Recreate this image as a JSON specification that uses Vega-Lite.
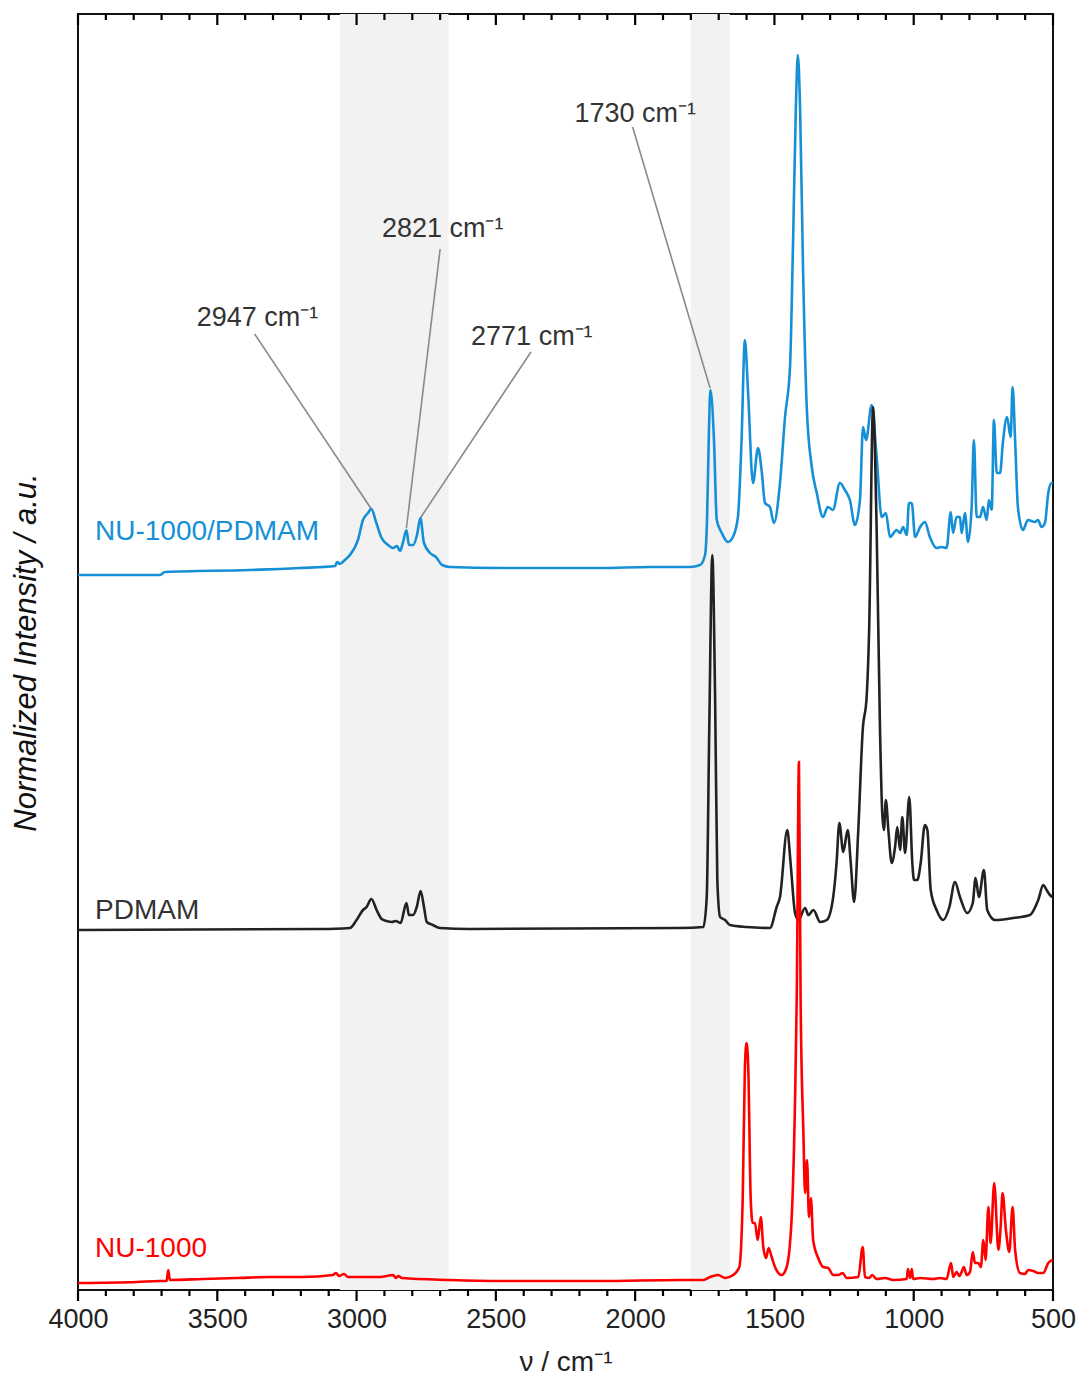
{
  "$schema": "https://vega.github.io/schema/vega-lite/v6.json",
  "width": 975,
  "height": 1276,
  "autosize": {"type": "none"},
  "padding": {"left": 78, "top": 14, "right": 28, "bottom": 91},
  "background": "white",
  "config": {
    "view": {"stroke": "#111111", "strokeWidth": 2},
    "font": "Liberation Sans",
    "axis": {"grid": false}
  },
  "datasets": {
    "blue": [[4000,715],[3706,715],[3688,718],[3383,720],[3203,722],[3077,724],[3070,728],[3060,726],[3042,730],[3024,735],[2995,750],[2977,770],[2959,777],[2947,781],[2930,768],[2912,753],[2887,745],[2869,742],[2855,744],[2844,739],[2833,748],[2821,760],[2812,745],[2797,745],[2783,755],[2771,772],[2758,747],[2736,737],[2715,733],[2693,725],[2665,723],[2485,722],[2126,722],[1947,723],[1803,723],[1767,725],[1749,735],[1742,770],[1735,860],[1730,900],[1717,850],[1707,770],[1689,757],[1667,748],[1649,753],[1631,773],[1618,850],[1606,950],[1595,900],[1577,807],[1559,842],[1545,817],[1534,787],[1516,783],[1502,767],[1480,807],[1462,873],[1444,923],[1433,1050],[1423,1183],[1416,1235],[1408,1183],[1397,1017],[1384,883],[1366,823],[1348,797],[1326,773],[1308,783],[1290,780],[1265,807],[1247,800],[1229,790],[1211,765],[1193,790],[1182,863],[1171,850],[1151,885],[1133,833],[1115,773],[1100,777],[1085,753],[1061,760],[1049,757],[1038,763],[1025,755],[1017,787],[1007,787],[995,753],[977,763],[960,768],[942,753],[918,742],[900,743],[882,742],[867,778],[859,757],[846,773],[834,773],[828,757],[816,777],[805,748],[792,783],[784,850],[774,773],[762,773],[751,783],[738,770],[730,790],[720,780],[712,870],[702,817],[690,817],[680,847],[665,873],[652,853],[645,903],[636,850],[626,783],[608,760],[590,770],[565,768],[554,770],[541,763],[529,767],[517,797],[505,807],[500,807]],
    "black": [[4000,360],[3131,361],[3024,362],[3000,370],[2977,380],[2964,383],[2947,391],[2928,380],[2910,371],[2892,369],[2874,368],[2859,369],[2842,367],[2821,387],[2812,375],[2797,375],[2784,383],[2770,399],[2758,383],[2748,368],[2726,365],[2701,362],[2593,361],[1839,362],[1755,363],[1743,393],[1734,560],[1723,735],[1713,593],[1705,410],[1695,373],[1677,370],[1660,365],[1600,363],[1516,362],[1492,383],[1480,393],[1454,460],[1442,427],[1426,377],[1414,370],[1390,382],[1378,375],[1360,380],[1336,368],[1312,370],[1289,393],[1277,427],[1267,467],[1253,438],[1237,460],[1226,427],[1214,388],[1199,460],[1183,560],[1169,593],[1160,660],[1146,883],[1133,760],[1121,560],[1113,477],[1107,460],[1100,490],[1091,460],[1079,427],[1067,443],[1059,463],[1049,440],[1041,473],[1031,437],[1016,493],[1005,427],[999,410],[987,410],[975,427],[960,465],[951,460],[939,400],[918,380],[894,370],[872,383],[852,408],[834,393],[808,377],[788,387],[778,412],[766,393],[748,420],[736,380],[708,370],[643,372],[583,375],[553,390],[535,405],[523,400],[511,395],[501,393]],
    "red": [[4000,7],[3789,8],[3706,9],[3682,9],[3676,20],[3670,10],[3551,11],[3430,12],[3311,13],[3192,13],[3085,15],[3074,17],[3063,14],[3045,16],[3031,13],[2916,13],[2869,15],[2859,12],[2851,14],[2837,12],[2665,10],[2485,9],[2126,9],[1839,10],[1755,10],[1731,13],[1702,15],[1677,12],[1648,15],[1626,23],[1614,90],[1606,223],[1600,247],[1594,223],[1585,90],[1578,67],[1570,67],[1560,50],[1549,73],[1540,43],[1530,32],[1521,42],[1510,33],[1498,23],[1474,15],[1456,23],[1438,73],[1426,190],[1420,290],[1412,528],[1406,290],[1396,157],[1390,97],[1383,130],[1376,73],[1369,92],[1361,50],[1343,32],[1325,23],[1307,22],[1289,15],[1271,15],[1255,17],[1241,12],[1199,13],[1183,43],[1175,13],[1160,12],[1149,15],[1133,11],[1103,12],[1073,10],[1025,11],[1021,21],[1013,12],[1007,21],[1002,11],[977,12],[930,11],[906,12],[882,11],[866,27],[858,13],[846,18],[836,14],[828,18],[820,23],[810,15],[798,18],[788,38],[780,27],[768,27],[759,23],[750,50],[742,30],[732,83],[724,47],[711,107],[696,40],[688,63],[681,97],[669,60],[657,38],[645,83],[636,40],[619,17],[601,16],[589,20],[571,19],[553,17],[535,17],[517,27],[501,30]],
    "bands": [{"a": 3060, "b": 2670}, {"a": 1800, "b": 1660}],
    "major": [{"v": 4000}, {"v": 3500}, {"v": 3000}, {"v": 2500}, {"v": 2000}, {"v": 1500}, {"v": 1000}, {"v": 500}],
    "minor": [{"v": 3900}, {"v": 3800}, {"v": 3700}, {"v": 3600}, {"v": 3400}, {"v": 3300}, {"v": 3200}, {"v": 3100}, {"v": 2900}, {"v": 2800}, {"v": 2700}, {"v": 2600}, {"v": 2400}, {"v": 2300}, {"v": 2200}, {"v": 2100}, {"v": 1900}, {"v": 1800}, {"v": 1700}, {"v": 1600}, {"v": 1400}, {"v": 1300}, {"v": 1200}, {"v": 1100}, {"v": 900}, {"v": 800}, {"v": 700}, {"v": 600}],
    "leaders": [
      {"x": 3366, "y": 956, "x2": 2947, "y2": 781},
      {"x": 2700, "y": 1041, "x2": 2821, "y2": 762},
      {"x": 2374, "y": 938, "x2": 2771, "y2": 772},
      {"x": 2009, "y": 1163, "x2": 1731, "y2": 902}
    ],
    "labels": [
      {"t": "2947 cm⁻¹", "x": 3574, "y": 964},
      {"t": "2821 cm⁻¹", "x": 2909, "y": 1053},
      {"t": "2771 cm⁻¹", "x": 2589, "y": 945},
      {"t": "1730 cm⁻¹", "x": 2218, "y": 1168}
    ],
    "names": [
      {"t": "NU-1000/PDMAM", "x": 3939, "y": 750},
      {"t": "PDMAM", "x": 3939, "y": 371},
      {"t": "NU-1000", "x": 3939, "y": 33}
    ]
  },
  "resolve": {"axis": {"x": "independent", "y": "independent"}},
  "layer": [
    {
      "data": {"name": "bands"},
      "mark": {"type": "rect", "color": "#f2f2f2"},
      "encoding": {
        "x": {
          "field": "a", "type": "quantitative",
          "scale": {"domain": [500, 4000], "reverse": true, "nice": false, "zero": false},
          "axis": null
        },
        "x2": {"field": "b"}
      }
    },
    {
      "data": {"name": "leaders"},
      "mark": {"type": "rule", "color": "#8a8a8a", "strokeWidth": 1.6},
      "encoding": {
        "x": {"field": "x", "type": "quantitative", "axis": null},
        "y": {"field": "y", "type": "quantitative", "axis": null, "scale": {"domain": [0, 1276], "nice": false, "zero": false}},
        "x2": {"field": "x2"},
        "y2": {"field": "y2"}
      }
    },
    {
      "data": {"name": "blue"},
      "mark": {"type": "line", "color": "#1590d6", "strokeWidth": 2.6, "interpolate": "monotone"},
      "encoding": {
        "x": {
          "field": "0", "type": "quantitative",
          "axis": {
            "orient": "bottom",
            "values": [4000,3500,3000,2500,2000,1500,1000,500],
            "format": "d",
            "labelFlush": false,
            "labelOverlap": false,
            "labelBound": false,
            "labelFontSize": 27,
            "labelColor": "#222222",
            "labelPadding": 16,
            "domain": false,
            "ticks": false,
            "title": "ν / cm⁻¹",
            "titleFontSize": 28,
            "titleFontWeight": "normal",
            "titleColor": "#222222",
            "titlePadding": 16
          }
        },
        "y": {
          "field": "1", "type": "quantitative",
          "axis": {
            "labels": false,
            "ticks": false,
            "domain": false,
            "title": "Normalized Intensity / a.u.",
            "titleFontSize": 31,
            "titleFontStyle": "italic",
            "titleFontWeight": "normal",
            "titleColor": "#111111",
            "titlePadding": 36
          }
        }
      }
    },
    {
      "data": {"name": "black"},
      "mark": {"type": "line", "color": "#222222", "strokeWidth": 2.6, "interpolate": "monotone"},
      "encoding": {
        "x": {"field": "0", "type": "quantitative", "axis": null},
        "y": {"field": "1", "type": "quantitative", "axis": null}
      }
    },
    {
      "data": {"name": "red"},
      "mark": {"type": "line", "color": "#ff0000", "strokeWidth": 2.6, "interpolate": "monotone"},
      "encoding": {
        "x": {"field": "0", "type": "quantitative", "axis": null},
        "y": {"field": "1", "type": "quantitative", "axis": null}
      }
    },
    {
      "data": {"name": "major"},
      "mark": {"type": "tick", "orient": "vertical", "color": "#000000", "size": 11, "thickness": 2.2, "opacity": 1, "clip": false},
      "encoding": {
        "x": {"field": "v", "type": "quantitative", "axis": null},
        "y": {"datum": -5.5, "type": "quantitative", "axis": null}
      }
    },
    {
      "data": {"name": "minor"},
      "mark": {"type": "tick", "orient": "vertical", "color": "#000000", "size": 6, "thickness": 2.2, "opacity": 1, "clip": false},
      "encoding": {
        "x": {"field": "v", "type": "quantitative", "axis": null},
        "y": {"datum": -3, "type": "quantitative", "axis": null}
      }
    },
    {
      "data": {"name": "major"},
      "mark": {"type": "tick", "orient": "vertical", "color": "#000000", "size": 11, "thickness": 2.2, "opacity": 1},
      "encoding": {
        "x": {"field": "v", "type": "quantitative", "axis": null},
        "y": {"datum": 1270.5, "type": "quantitative", "axis": null}
      }
    },
    {
      "data": {"name": "minor"},
      "mark": {"type": "tick", "orient": "vertical", "color": "#000000", "size": 6, "thickness": 2.2, "opacity": 1},
      "encoding": {
        "x": {"field": "v", "type": "quantitative", "axis": null},
        "y": {"datum": 1273, "type": "quantitative", "axis": null}
      }
    },
    {
      "data": {"name": "labels"},
      "mark": {"type": "text", "align": "left", "baseline": "alphabetic", "fontSize": 27, "color": "#333333"},
      "encoding": {
        "x": {"field": "x", "type": "quantitative", "axis": null},
        "y": {"field": "y", "type": "quantitative", "axis": null},
        "text": {"field": "t"}
      }
    },
    {
      "data": {"name": "names"},
      "mark": {"type": "text", "align": "left", "baseline": "alphabetic", "fontSize": 28},
      "encoding": {
        "x": {"field": "x", "type": "quantitative", "axis": null},
        "y": {"field": "y", "type": "quantitative", "axis": null},
        "text": {"field": "t"},
        "color": {
          "field": "t", "type": "nominal", "legend": null,
          "scale": {"domain": ["NU-1000/PDMAM", "PDMAM", "NU-1000"], "range": ["#1590d6", "#333333", "#ff0000"]}
        }
      }
    }
  ]
}
